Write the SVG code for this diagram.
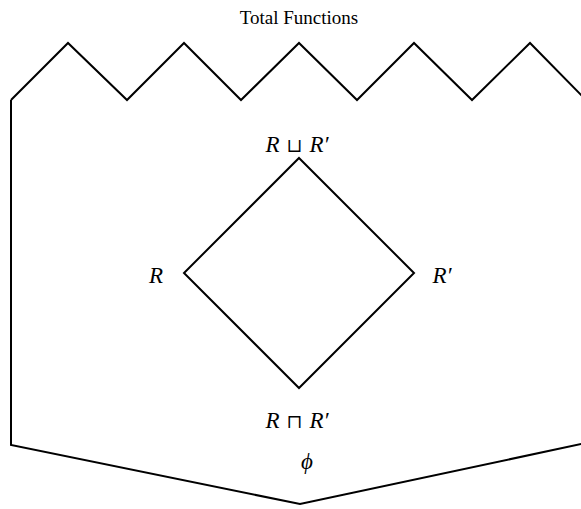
<svg xmlns="http://www.w3.org/2000/svg" width="581" height="509" viewBox="0 0 581 509">
<style>
.ln{fill:none;stroke:#000;stroke-width:2;stroke-linejoin:miter}
.t{font-family:"Liberation Serif","DejaVu Serif",serif;fill:#000}
.m{font-family:"Liberation Serif","DejaVu Serif",serif;font-style:italic;font-size:23px;fill:#000;text-anchor:middle}
.op{font-style:normal;font-family:"DejaVu Serif","Liberation Serif",serif;font-size:19px}
</style>
<rect width="581" height="509" fill="#fff"/>
<g id="total">
<path class="ln" d="M11,100 L68,43 L127,100 L184,43 L241,100 L299,43 L357,100 L414,43 L472,100 L530,43 L586,100"/>
<path class="ln" d="M11,100 L11,445 L300,504 L586,443"/>
<text class="t" x="299" y="24" font-size="19" text-anchor="middle">Total Functions</text>
</g>
<g id="connectors">
<path class="ln" d="M299,158 L414,273 L299,388 L184,273 Z"/>
</g>
<g id="join"><text class="m" x="297" y="152">R<tspan class="op" dx="7">⊔</tspan><tspan dx="7">R′</tspan></text></g>
<g id="R"><text class="m" x="156" y="283">R</text></g>
<g id="Rp"><text class="m" x="442" y="283">R′</text></g>
<g id="meet"><text class="m" x="297" y="428">R<tspan class="op" dx="7">⊓</tspan><tspan dx="7">R′</tspan></text></g>
<g id="bottom"><text class="m" x="307" y="469">ϕ</text></g>
</svg>
